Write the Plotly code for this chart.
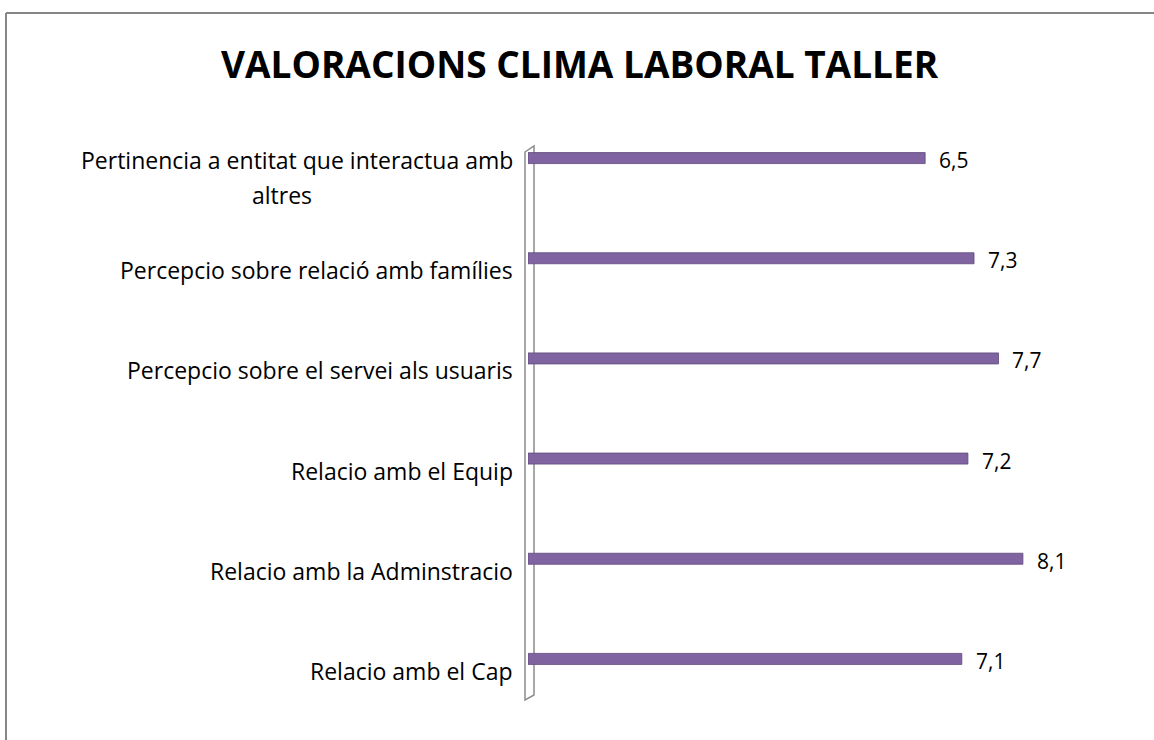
import plotly.graph_objects as go

categories = [
    "Relacio amb el Cap",
    "Relacio amb la Adminstracio",
    "Relacio amb el Equip",
    "Percepcio sobre el servei als usuaris",
    "Percepcio sobre relació amb famílies",
    "Pertinencia a entitat que interactua amb<br>altres",
]
values = [7.1, 8.1, 7.2, 7.7, 7.3, 6.5]
value_labels = ["7,1", "8,1", "7,2", "7,7", "7,3", "6,5"]
title_text = "VALORACIONS CLIMA LABORAL TALLER"

W, H = 1154, 740
L, R, T, B = 528, 15, 108, 31
pw, ph = W - L - R, H - T - B

def xp(sx):
    return (sx - L) / pw

def yp(sy):
    return (H - B - sy) / ph

FONT = "Open Sans, sans-serif"

fig = go.Figure()
fig.add_trace(go.Bar(
    y=list(range(len(categories))),
    x=values,
    orientation="h",
    width=0.11,
    marker=dict(color="#8064A2", line=dict(color="#5E4A7A", width=0.8)),
    hoverinfo="skip",
))

annotations = []
for i, (v, lab) in enumerate(zip(values, value_labels)):
    annotations.append(dict(
        x=v, y=i, xref="x", yref="y", text=lab, showarrow=False,
        xanchor="left", yanchor="middle", xshift=12, yshift=-2,
        font=dict(family=FONT, size=21, color="#000000"),
    ))
for i, c in enumerate(categories):
    lines = c.split("<br>")
    n = len(lines)
    c0 = -12 - 7.5 * (n - 1)
    for k, ln in enumerate(lines):
        first = (k == 0)
        annotations.append(dict(
            x=xp(515) if first else xp(282), y=i, xref="paper", yref="y", text=ln,
            showarrow=False,
            xanchor="right" if first else "center",
            yanchor="middle",
            yshift=c0 - 35 * (k - (n - 1) / 2),
            font=dict(family=FONT, size=23, color="#000000"),
        ))
annotations.append(dict(
    x=xp(580), y=yp(63), xref="paper", yref="paper", text="<b>" + title_text + "</b>",
    showarrow=False, xanchor="center", yanchor="middle",
    font=dict(family=FONT, size=37, color="#000000"),
))

shapes = [
    # outer chart border (top and left)
    dict(type="line", xref="paper", yref="paper", x0=xp(6), x1=xp(1170), y0=yp(13), y1=yp(13),
         line=dict(color="#868686", width=2)),
    dict(type="line", xref="paper", yref="paper", x0=xp(6), x1=xp(6), y0=yp(13), y1=yp(760),
         line=dict(color="#868686", width=2)),
    # 3D wall
    dict(type="path", xref="paper", yref="paper", layer="below",
         path=f"M {xp(525)},{yp(152)} L {xp(534)},{yp(146)} L {xp(534)},{yp(695)} L {xp(525)},{yp(700)} Z",
         line=dict(color="#8C8C8C", width=1.5), fillcolor="rgba(255,255,255,0)"),
]

fig.update_layout(
    width=W, height=H,
    margin=dict(l=L, r=R, t=T, b=B),
    paper_bgcolor="white", plot_bgcolor="white",
    showlegend=False,
    bargap=0.89,
    xaxis=dict(range=[0, 10], showgrid=False, zeroline=False, showticklabels=False,
               showline=False, ticks=""),
    yaxis=dict(range=[-0.5, 5.5], showgrid=False, zeroline=False, showticklabels=False,
               showline=False, ticks=""),
    annotations=annotations,
    shapes=shapes,
)

fig.write_html("out.html", config={"displayModeBar": False},
               post_script="document.body.style.margin='0';document.body.style.overflow='hidden';")
